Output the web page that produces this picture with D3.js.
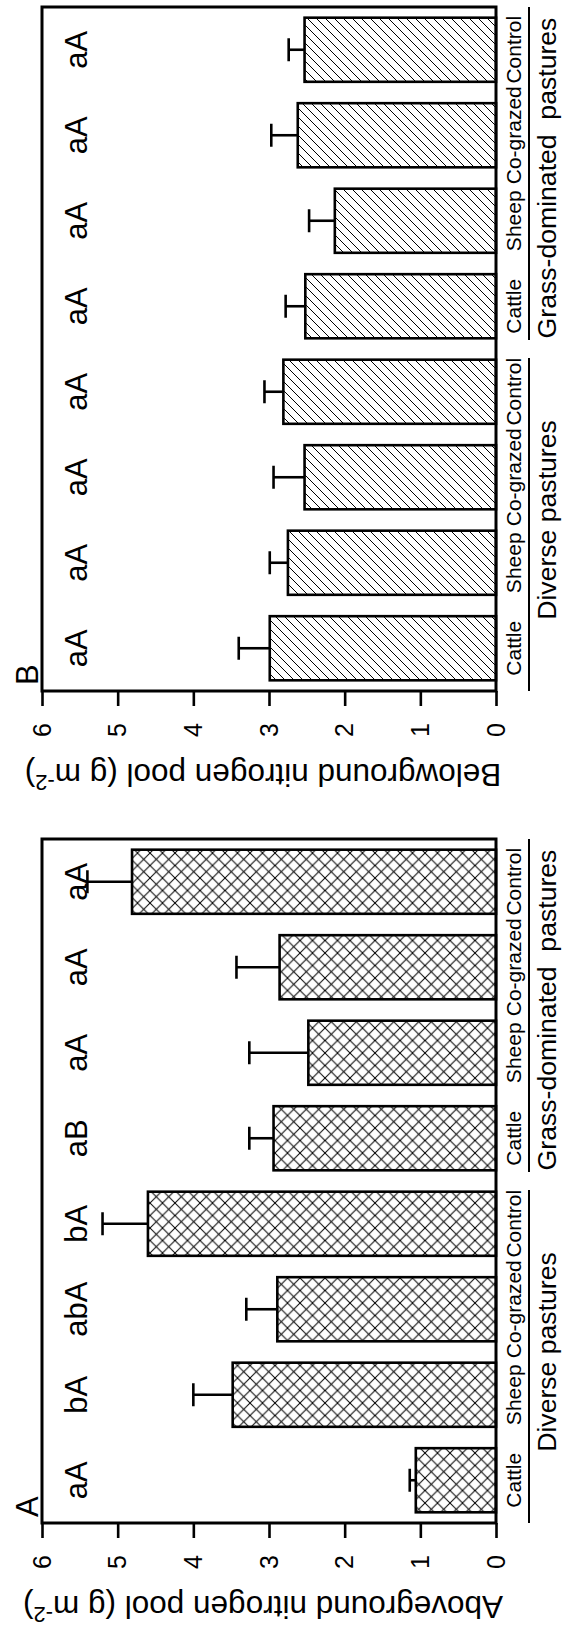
<!DOCTYPE html>
<html>
<head>
<meta charset="utf-8">
<script src="https://cdn.jsdelivr.net/npm/d3@7/dist/d3.min.js"></script>
<style>
  html, body { margin: 0; padding: 0; background: #fff; }
  svg { display: block; }
  text { font-family: "Liberation Sans", Arial, Helvetica, sans-serif; fill: #000; }
</style>
</head>
<body>
<svg id="chart" width="564" height="1628"></svg>
<script>
// Grazing treatments and pasture types
const treatments = ["Cattle", "Sheep", "Co-grazed", "Control"];
const pastureTypes = ["Diverse pastures", "Grass-dominated  pastures"];
const yTicks = [0, 1, 2, 3, 4, 5, 6];

// A: aboveground nitrogen pool (g m-2), mean and SE
const aboveDiverse   = [1.06, 3.48, 2.89, 4.60];
const aboveDiverseSE = [0.08, 0.52, 0.41, 0.60];
const aboveGrass     = [2.94, 2.48, 2.86, 4.81];
const aboveGrassSE   = [0.32, 0.78, 0.57, 0.59];
const aboveLetters   = ["aA", "bA", "abA", "bA", "aB", "aA", "aA", "aA"];

// B: belowground nitrogen pool (g m-2), mean and SE
const belowDiverse   = [2.99, 2.75, 2.53, 2.81];
const belowDiverseSE = [0.41, 0.24, 0.41, 0.25];
const belowGrass     = [2.52, 2.13, 2.62, 2.53];
const belowGrassSE   = [0.26, 0.34, 0.35, 0.21];
const belowLetters   = ["aA", "aA", "aA", "aA", "aA", "aA", "aA", "aA"];

const W = 564, H = 1628;
const svg = d3.select("#chart");

// Hatch fills
const defs = svg.append("defs");
const cs = 12.5;
const cross = defs.append("pattern").attr("id", "crosshatch")
  .attr("patternUnits", "userSpaceOnUse").attr("width", cs).attr("height", cs);
cross.append("path")
  .attr("d", `M-1,-1L${cs + 1},${cs + 1}M-1,${cs + 1}L${cs + 1},-1`)
  .attr("stroke", "#000").attr("stroke-width", 1).attr("fill", "none");
const hs = 9;
const hatch = defs.append("pattern").attr("id", "hatch")
  .attr("patternUnits", "userSpaceOnUse").attr("width", hs).attr("height", hs);
hatch.append("path")
  .attr("d", `M-1,${hs + 1}L${hs + 1},-1M-1,1L1,-1M${hs - 1},${hs + 1}L${hs + 1},${hs - 1}`)
  .attr("stroke", "#000").attr("stroke-width", 1).attr("fill", "none");

// The figure is laid out landscape and turned a quarter turn onto the page
const root = svg.append("g").attr("transform", `translate(0,${H}) rotate(-90)`);

const y = d3.scaleLinear().domain([0, 6]).range([496, 42]);

function drawPanel(cfg) {
  const g = root.append("g");
  const x0 = cfg.x0, x1 = cfg.x0 + 684;
  const keys = [];
  pastureTypes.forEach((p, pi) => treatments.forEach((t, ti) => keys.push(pi + "|" + t)));
  const rows = keys.map((k, i) => {
    const pi = Math.floor(i / 4), ti = i % 4;
    return {
      key: k,
      label: treatments[ti],
      mean: pi === 0 ? cfg.diverse[ti] : cfg.grass[ti],
      se: pi === 0 ? cfg.diverseSE[ti] : cfg.grassSE[ti],
      letter: cfg.letters[i]
    };
  });
  const x = d3.scaleBand().domain(keys).range([x0, x1])
    .paddingInner(0.25).paddingOuter(0.125);

  // bars
  g.selectAll("rect.bar").data(rows).join("rect")
    .attr("class", "bar")
    .attr("x", d => x(d.key))
    .attr("width", x.bandwidth())
    .attr("y", d => y(d.mean))
    .attr("height", d => y(0) - y(d.mean))
    .attr("fill", `url(#${cfg.fill})`)
    .attr("stroke", "#000").attr("stroke-width", 2.6);

  // error bars (upper SE)
  const eb = g.selectAll("g.err").data(rows).join("g").attr("class", "err");
  eb.append("line")
    .attr("x1", d => x(d.key) + x.bandwidth() / 2).attr("x2", d => x(d.key) + x.bandwidth() / 2)
    .attr("y1", d => y(d.mean)).attr("y2", d => y(d.mean + d.se))
    .attr("stroke", "#000").attr("stroke-width", 2.6);
  eb.append("line")
    .attr("x1", d => x(d.key) + x.bandwidth() / 2 - 11.5).attr("x2", d => x(d.key) + x.bandwidth() / 2 + 11.5)
    .attr("y1", d => y(d.mean + d.se)).attr("y2", d => y(d.mean + d.se))
    .attr("stroke", "#000").attr("stroke-width", 2.6);

  // frame
  g.append("rect")
    .attr("x", x0).attr("y", y(6)).attr("width", x1 - x0).attr("height", y(0) - y(6))
    .attr("fill", "none").attr("stroke", "#000").attr("stroke-width", 3);

  // value axis
  const axis = d3.axisLeft(y).tickValues(yTicks).tickSize(15).tickPadding(17).tickFormat(d3.format("d"));
  const ag = g.append("g").attr("transform", `translate(${x0},0)`).call(axis);
  ag.select(".domain").remove();
  ag.selectAll(".tick line").attr("stroke", "#000").attr("stroke-width", 2.6);
  ag.selectAll(".tick text").attr("font-size", 25).attr("fill", "#000")
    .attr("font-family", "'Liberation Sans', Arial, sans-serif");

  // axis title
  const title = g.append("text")
    .attr("transform", `translate(${x0 - 73},${(y(0) + y(6)) / 2 - 6}) rotate(-90)`)
    .attr("text-anchor", "middle").attr("font-size", 31.5);
  title.append("tspan").text(cfg.title + " (g m");
  title.append("tspan").attr("font-size", 22).attr("dy", -11).text("-2");
  title.append("tspan").attr("dy", 11).text(")");

  // panel label
  g.append("text").attr("x", x0 + 6).attr("y", 38)
    .attr("font-size", 31).text(cfg.panel);

  // significance letters
  g.selectAll("text.letter").data(rows).join("text")
    .attr("class", "letter")
    .attr("x", d => x(d.key) + x.bandwidth() / 2).attr("y", 87)
    .attr("text-anchor", "middle").attr("font-size", 31)
    .text(d => d.letter);

  // treatment labels
  g.selectAll("text.cat").data(rows).join("text")
    .attr("class", "cat")
    .attr("x", d => x(d.key) + x.bandwidth() / 2).attr("y", 521)
    .attr("text-anchor", "middle").attr("font-size", 21)
    .text(d => d.label);

  // pasture type lines and labels
  pastureTypes.forEach((p, pi) => {
    const a = x.range()[0] + pi * (x1 - x0) / 2;
    const b = a + (x1 - x0) / 2;
    const la = pi === 0 ? a : a + 9;
    const lb = pi === 0 ? b - 9 : b;
    g.append("line").attr("x1", la).attr("x2", lb).attr("y1", 529).attr("y2", 529)
      .attr("stroke", "#000").attr("stroke-width", 2);
    g.append("text").attr("x", (a + b) / 2).attr("y", 556)
      .attr("text-anchor", "middle").attr("font-size", 26.6)
      .style("white-space", "pre").text(p);
  });
}

drawPanel({
  x0: 105, panel: "A", title: "Aboveground nitrogen pool", fill: "crosshatch",
  diverse: aboveDiverse, diverseSE: aboveDiverseSE,
  grass: aboveGrass, grassSE: aboveGrassSE, letters: aboveLetters
});
drawPanel({
  x0: 937, panel: "B", title: "Belowground nitrogen pool", fill: "hatch",
  diverse: belowDiverse, diverseSE: belowDiverseSE,
  grass: belowGrass, grassSE: belowGrassSE, letters: belowLetters
});
</script>
</body>
</html>
